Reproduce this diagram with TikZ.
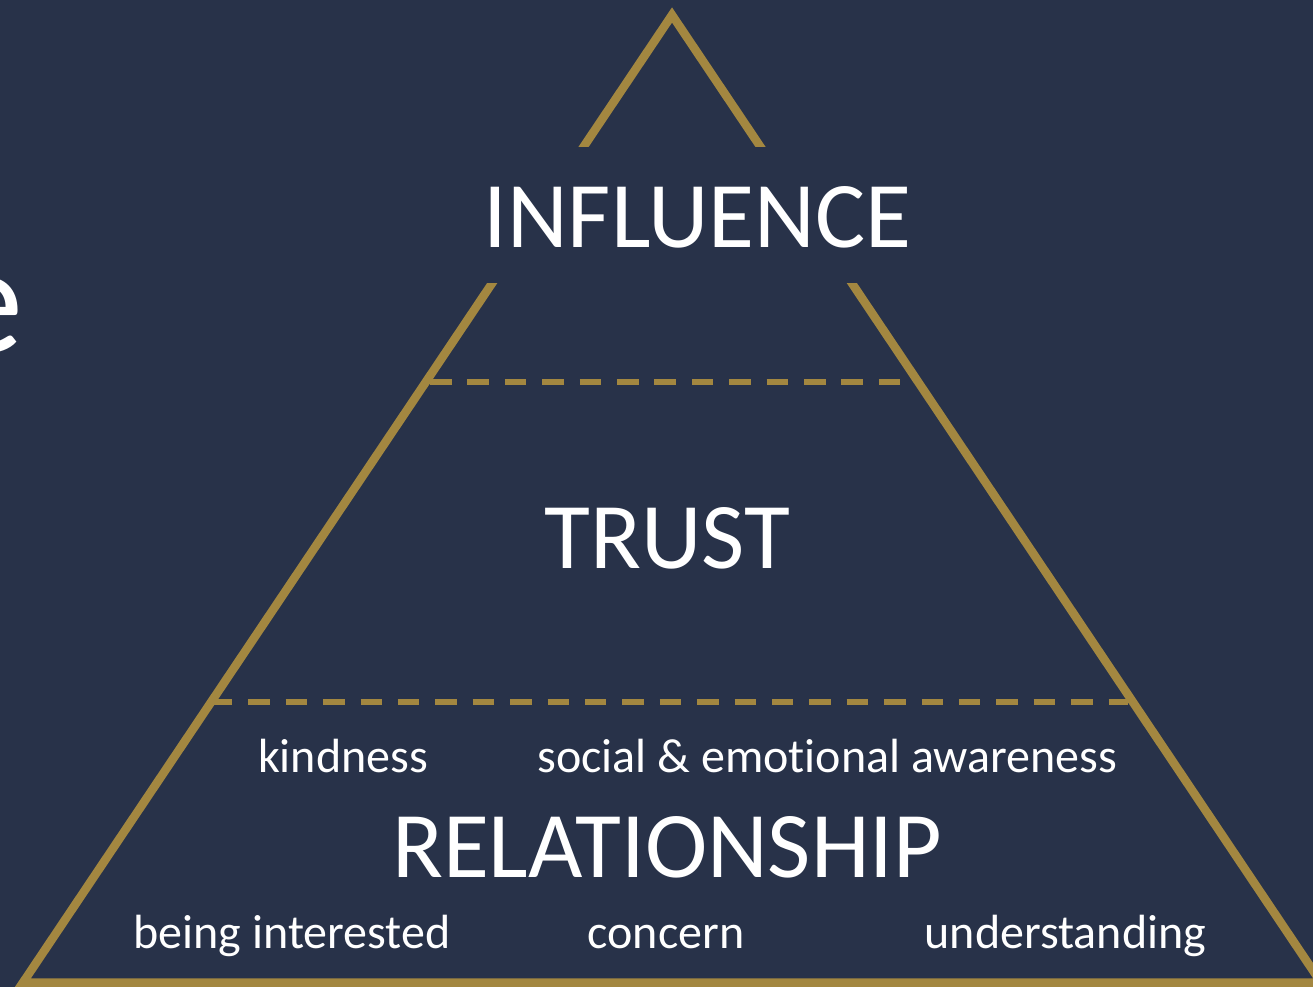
\documentclass[tikz,border=0pt]{standalone}
\usepackage{fontspec}
\setmainfont{Carlito}[Ligatures=CommonOff]
\definecolor{bgc}{HTML}{283249}
\definecolor{goldc}{HTML}{A38740}
\tikzset{
  side/.style={draw=goldc, line width=8.5pt, line join=miter},
  divider/.style={draw=goldc, line width=5.5pt, dash pattern=on 21.5pt off 15.9pt},
  bigtext/.style={text=white, font=\fontsize{94}{94}\selectfont, inner sep=0pt, anchor=base},
  smalltext/.style={text=white, font=\fontsize{48}{48}\selectfont, inner sep=0pt, anchor=base}
}

\begin{document}

\begin{tikzpicture}[x=1pt,y=-1pt]
\fill[bgc] (0,0) rectangle (1313,987);
\useasboundingbox (0,0) rectangle (1313,987);
\begin{scope}
\clip (0,0) rectangle (1313,987);
\node[text=white, font=\fontsize{155}{155}\selectfont, inner sep=0pt, anchor=base east] (title) at (24,352) {e};
\coordinate (apex) at (672,15);
\coordinate (bl) at (23,982.5);
\coordinate (br) at (1321,982.5);
\path[side] (apex) -- (bl) -- (br) -- cycle;
\end{scope}
\fill[bgc] (450,147) rectangle (880,283);
\coordinate (d1l) at (430,382);
\coordinate (d1r) at (902,382);
\coordinate (d2l) at (210.9,702);
\coordinate (d2r) at (1128,702);
\path[divider] (d1l) -- (d1r);
\path[divider] (d2l) -- (d2r);
\node[bigtext] (influence) at (697.5,247) {INFLUENCE};
\node[bigtext] (trust) at (667.5,568) {TRUST};
\node[bigtext] (relationship) at (667,877) {RELATIONSHIP};
\node[smalltext] (kindness) at (343,772) {kindness};
\node[smalltext] (social) at (827.5,772) {social \& emotional awareness};
\node[smalltext] (interested) at (292,948) {being interested};
\node[smalltext] (concern) at (666,948) {concern};
\node[smalltext] (understanding) at (1065.5,948) {understanding};
\end{tikzpicture}

\end{document}
